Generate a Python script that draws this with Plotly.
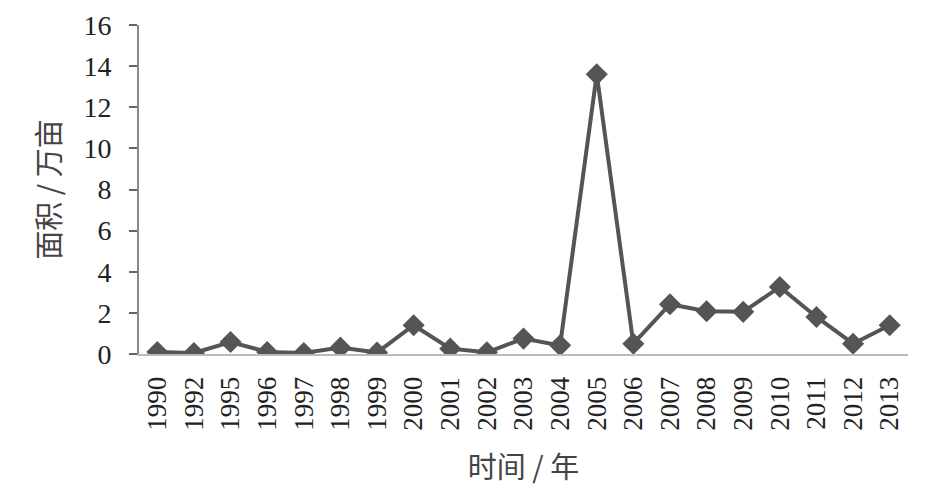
import plotly.graph_objects as go

years = ["1990", "1992", "1995", "1996", "1997", "1998", "1999", "2000", "2001", "2002", "2003",
         "2004", "2005", "2006", "2007", "2008", "2009", "2010", "2011", "2012", "2013"]
area = [0.1, 0.05, 0.58, 0.1, 0.05, 0.31, 0.07, 1.4, 0.26, 0.08, 0.75,
        0.42, 13.6, 0.5, 2.42, 2.08, 2.05, 3.26, 1.8, 0.5, 1.4]
y_ticks = [0, 2, 4, 6, 8, 10, 12, 14, 16]

serif = "Liberation Serif"
cjk = "Noto Sans CJK SC"

fig = go.Figure()
fig.add_trace(go.Scatter(
    x=years, y=area, mode="lines+markers",
    line=dict(color="#555555", width=4),
    marker=dict(symbol="diamond", size=17, color="#555555"),
    showlegend=False,
))

fig.update_layout(
    width=930, height=480,
    margin=dict(l=131, r=30, t=17, b=134),
    paper_bgcolor="white", plot_bgcolor="white",
    xaxis=dict(
        type="category",
        range=[-0.5, len(years) - 0.5],
        automargin=False,
        tickmode="array", tickvals=years, ticktext=years,
        tickangle=-90,
        tickfont=dict(family=serif, size=27, color="#222222"),
        showgrid=False, zeroline=False,
        showline=True, linecolor="#bbbbbb", linewidth=2,
        ticks="",
        ticklabelstandoff=10,
        title=dict(text="时间 / 年", font=dict(family=cjk, size=29, color="#444444"), standoff=28),
    ),
    yaxis=dict(
        range=[0, 16],
        automargin=False,
        tickvals=y_ticks,
        tickfont=dict(family=serif, size=28, color="#222222"),
        showgrid=False, zeroline=False,
        showline=True, linecolor="#888888", linewidth=2,
        ticks="outside", ticklen=8, tickwidth=2, tickcolor="#666666",
        ticklabelstandoff=12,
        title=dict(text="面积 / 万亩", font=dict(family=cjk, size=29, color="#444444"), standoff=14),
    ),
)

fig.write_html("out.html")
